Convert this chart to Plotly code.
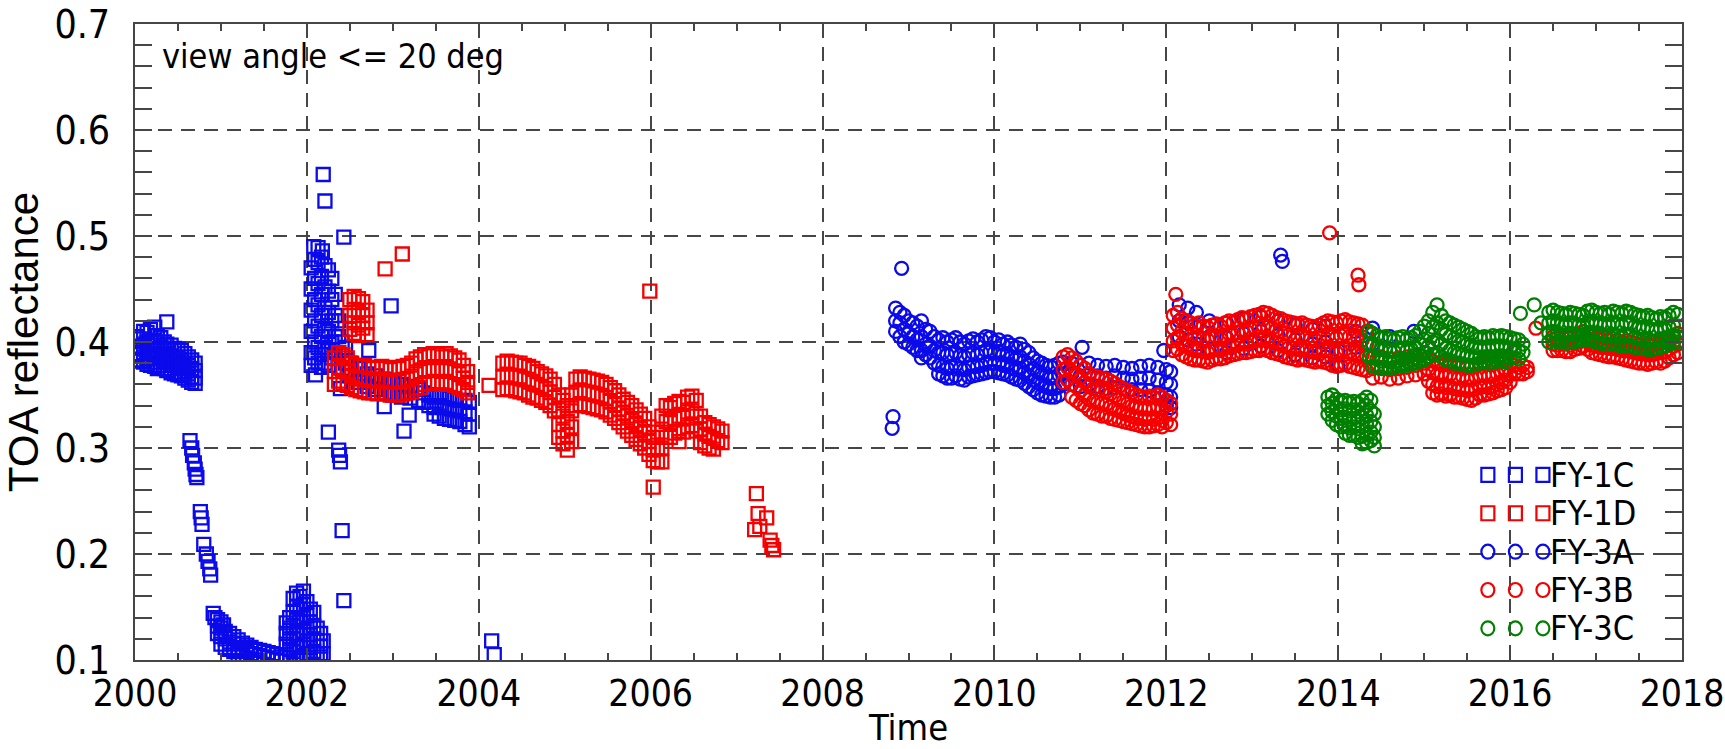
import plotly.graph_objects as go

# ---------------- data: (decimal year, reflectance values observed near that date) ----------------
FY1C = [
    (2000.02, 0.405, 0.395, 0.388, 0.383), (2000.06, 0.403, 0.396, 0.389, 0.382),
    (2000.10, 0.410, 0.398, 0.390, 0.381), (2000.14, 0.409, 0.400, 0.392, 0.384, 0.379),
    (2000.18, 0.412, 0.401, 0.393, 0.386, 0.378), (2000.23, 0.414, 0.400, 0.392, 0.384, 0.377),
    (2000.26, 0.406, 0.397, 0.389, 0.381, 0.375), (2000.30, 0.404, 0.395, 0.386, 0.378),
    (2000.34, 0.400, 0.392, 0.383, 0.375), (2000.37, 0.419, 0.398, 0.389, 0.381, 0.373),
    (2000.42, 0.397, 0.387, 0.379, 0.371), (2000.46, 0.394, 0.386, 0.378, 0.370),
    (2000.50, 0.393, 0.385, 0.376, 0.369), (2000.54, 0.392, 0.383, 0.375, 0.368),
    (2000.58, 0.389, 0.380, 0.372, 0.366), (2000.62, 0.386, 0.378, 0.370, 0.364),
    (2000.66, 0.383, 0.375, 0.367, 0.362), (2000.70, 0.380, 0.373, 0.366, 0.361),
    (2000.64, 0.307), (2000.66, 0.300), (2000.67, 0.293), (2000.69, 0.286),
    (2000.70, 0.280), (2000.71, 0.275), (2000.72, 0.272),
    (2000.76, 0.240), (2000.77, 0.234), (2000.78, 0.228),
    (2000.80, 0.209), (2000.83, 0.200), (2000.85, 0.193), (2000.87, 0.186), (2000.88, 0.180),
    (2000.91, 0.144), (2000.93, 0.140), (2000.96, 0.138, 0.132, 0.125),
    (2001.00, 0.136, 0.130, 0.122, 0.115), (2001.03, 0.133), (2001.05, 0.127, 0.120, 0.112),
    (2001.10, 0.125, 0.117, 0.110), (2001.15, 0.122, 0.115, 0.108), (2001.20, 0.119, 0.112, 0.105),
    (2001.25, 0.116, 0.110, 0.104), (2001.30, 0.114, 0.108, 0.102), (2001.35, 0.112, 0.106, 0.101),
    (2001.40, 0.110, 0.105, 0.100), (2001.45, 0.109, 0.104), (2001.50, 0.108, 0.103),
    (2001.55, 0.107, 0.102), (2001.60, 0.106, 0.101), (2001.65, 0.105, 0.100), (2001.70, 0.103, 0.099),
    (2001.76, 0.135, 0.125, 0.115, 0.105), (2001.80, 0.140, 0.130, 0.120, 0.110, 0.102),
    (2001.84, 0.158, 0.145, 0.132, 0.120, 0.108), (2001.88, 0.163, 0.150, 0.138, 0.125, 0.112, 0.102),
    (2001.92, 0.160, 0.148, 0.136, 0.124, 0.112, 0.102), (2001.96, 0.165, 0.152, 0.140, 0.127, 0.115, 0.104),
    (2002.00, 0.155, 0.142, 0.130, 0.118, 0.106), (2002.04, 0.148, 0.136, 0.124, 0.112, 0.102),
    (2002.08, 0.145, 0.132, 0.120, 0.108), (2002.12, 0.130, 0.118, 0.106),
    (2002.16, 0.125, 0.113, 0.103), (2002.19, 0.118, 0.106),
    (2002.05, 0.470, 0.450, 0.430, 0.410, 0.390, 0.378), (2002.09, 0.478, 0.460, 0.440, 0.420, 0.400, 0.385),
    (2002.13, 0.475, 0.455, 0.435, 0.415, 0.395, 0.380), (2002.17, 0.480, 0.462, 0.445, 0.425, 0.405, 0.388, 0.376),
    (2002.21, 0.472, 0.452, 0.432, 0.412, 0.395, 0.380), (2002.25, 0.468, 0.448, 0.428, 0.410, 0.392, 0.378),
    (2002.29, 0.460, 0.440, 0.420, 0.400, 0.385), (2002.33, 0.445, 0.425, 0.405, 0.390),
    (2002.37, 0.420, 0.405, 0.390), (2002.41, 0.400, 0.388, 0.375), (2002.45, 0.395, 0.380),
    (2002.19, 0.558), (2002.21, 0.533), (2002.43, 0.499), (2002.08, 0.490), (2002.13, 0.489),
    (2002.18, 0.486), (2002.10, 0.369), (2002.25, 0.315), (2002.37, 0.298), (2002.38, 0.293),
    (2002.39, 0.287), (2002.41, 0.222), (2002.43, 0.156), (2002.39, 0.356), (2002.72, 0.392),
    (2002.98, 0.434), (2002.90, 0.339), (2003.13, 0.316), (2003.19, 0.331),
    (2002.50, 0.380, 0.368), (2002.60, 0.375, 0.362), (2002.70, 0.370, 0.358), (2002.80, 0.368, 0.355),
    (2002.90, 0.365, 0.352), (2003.00, 0.362, 0.350), (2003.10, 0.360, 0.348), (2003.20, 0.358, 0.347),
    (2003.30, 0.355, 0.345), (2003.36, 0.352, 0.343), (2003.42, 0.350, 0.340),
    (2003.48, 0.348, 0.338, 0.332), (2003.54, 0.350, 0.340, 0.330), (2003.60, 0.348, 0.338, 0.328),
    (2003.66, 0.347, 0.337, 0.327), (2003.72, 0.346, 0.336, 0.326), (2003.78, 0.345, 0.335, 0.325),
    (2003.84, 0.345, 0.334, 0.322), (2003.89, 0.343, 0.332, 0.320),
    (2004.15, 0.118), (2004.18, 0.105),
]

FY1D = [
    (2002.50, 0.440, 0.425, 0.412), (2002.55, 0.443, 0.430, 0.418, 0.408),
    (2002.60, 0.441, 0.428, 0.416, 0.406), (2002.65, 0.438, 0.425, 0.413), (2002.70, 0.430, 0.418, 0.407),
    (2002.91, 0.469), (2003.11, 0.483),
    (2002.32, 0.385, 0.372, 0.360), (2002.37, 0.390, 0.376, 0.363), (2002.42, 0.388, 0.374, 0.361),
    (2002.47, 0.385, 0.372, 0.359), (2002.52, 0.380, 0.368, 0.357), (2002.57, 0.378, 0.366, 0.355),
    (2002.62, 0.377, 0.365, 0.354), (2002.67, 0.378, 0.366, 0.353), (2002.72, 0.376, 0.364, 0.352),
    (2002.77, 0.375, 0.363, 0.352), (2002.82, 0.376, 0.364, 0.351), (2002.87, 0.377, 0.365, 0.352),
    (2002.92, 0.375, 0.363, 0.351), (2002.97, 0.374, 0.362, 0.350), (2003.02, 0.376, 0.364, 0.351),
    (2003.07, 0.375, 0.363, 0.350), (2003.12, 0.377, 0.364, 0.351), (2003.17, 0.378, 0.365, 0.352),
    (2003.22, 0.380, 0.366, 0.353), (2003.27, 0.384, 0.370, 0.356), (2003.32, 0.386, 0.372, 0.357),
    (2003.37, 0.388, 0.374, 0.360), (2003.42, 0.387, 0.373, 0.361), (2003.47, 0.389, 0.375, 0.362),
    (2003.52, 0.388, 0.374, 0.361), (2003.57, 0.386, 0.373, 0.360), (2003.62, 0.389, 0.375, 0.362),
    (2003.67, 0.387, 0.373, 0.360), (2003.72, 0.385, 0.372, 0.359), (2003.77, 0.383, 0.370, 0.357),
    (2003.82, 0.378, 0.366, 0.355), (2003.87, 0.372, 0.362, 0.352),
    (2004.12, 0.359),
    (2004.28, 0.380, 0.367, 0.355), (2004.33, 0.382, 0.369, 0.356), (2004.38, 0.381, 0.368, 0.355),
    (2004.43, 0.380, 0.367, 0.354), (2004.48, 0.380, 0.367, 0.353), (2004.53, 0.378, 0.365, 0.352),
    (2004.58, 0.377, 0.364, 0.350), (2004.63, 0.375, 0.362, 0.348), (2004.68, 0.372, 0.360, 0.347),
    (2004.73, 0.370, 0.358, 0.345), (2004.78, 0.368, 0.356, 0.343), (2004.83, 0.365, 0.353, 0.340),
    (2004.88, 0.360, 0.348, 0.335), (2004.93, 0.350, 0.336, 0.322, 0.310),
    (2004.98, 0.345, 0.330, 0.316, 0.304), (2005.03, 0.340, 0.325, 0.312, 0.298),
    (2005.08, 0.350, 0.335, 0.320, 0.306),
    (2005.13, 0.365, 0.352, 0.340), (2005.18, 0.367, 0.354, 0.341), (2005.23, 0.366, 0.353, 0.340),
    (2005.28, 0.365, 0.352, 0.339), (2005.33, 0.364, 0.351, 0.338), (2005.38, 0.363, 0.350, 0.337),
    (2005.43, 0.362, 0.349, 0.336), (2005.48, 0.360, 0.347, 0.334), (2005.53, 0.357, 0.344, 0.331),
    (2005.58, 0.354, 0.341, 0.328), (2005.63, 0.350, 0.337, 0.324), (2005.68, 0.346, 0.333, 0.320),
    (2005.73, 0.343, 0.330, 0.316), (2005.78, 0.340, 0.326, 0.312), (2005.83, 0.336, 0.322, 0.308),
    (2005.88, 0.332, 0.318, 0.304), (2005.93, 0.328, 0.314, 0.300), (2005.98, 0.320, 0.306, 0.294),
    (2006.03, 0.310, 0.298, 0.288), (2006.08, 0.315, 0.300, 0.287), (2006.13, 0.330, 0.315, 0.300, 0.287),
    (2006.18, 0.340, 0.325, 0.310), (2006.23, 0.338, 0.324, 0.310), (2006.28, 0.342, 0.328, 0.314),
    (2006.33, 0.344, 0.330, 0.316, 0.306), (2006.38, 0.343, 0.329, 0.315), (2006.43, 0.348, 0.334, 0.320),
    (2006.48, 0.349, 0.335, 0.321), (2006.53, 0.345, 0.330, 0.316), (2006.58, 0.330, 0.318, 0.305),
    (2006.63, 0.324, 0.313, 0.302), (2006.68, 0.322, 0.311, 0.300), (2006.73, 0.320, 0.309, 0.299),
    (2006.78, 0.318, 0.307), (2006.83, 0.316, 0.305),
    (2005.99, 0.448), (2006.03, 0.263),
    (2007.23, 0.257), (2007.25, 0.238), (2007.35, 0.234), (2007.21, 0.223), (2007.27, 0.226),
    (2007.39, 0.213), (2007.43, 0.204), (2007.41, 0.208),
]

FY3A = [
    (2008.92, 0.4695), (2008.82, 0.3296), (2008.81, 0.3186),
    (2008.85, 0.432, 0.420, 0.410), (2008.90, 0.428, 0.418, 0.405), (2008.95, 0.425, 0.412, 0.400),
    (2009.00, 0.420, 0.408, 0.398), (2009.05, 0.418, 0.405, 0.395), (2009.10, 0.415, 0.402, 0.392),
    (2009.15, 0.420, 0.405, 0.392, 0.385), (2009.20, 0.412, 0.398, 0.388), (2009.25, 0.410, 0.396, 0.385),
    (2009.30, 0.405, 0.392, 0.380), (2009.35, 0.402, 0.390, 0.378, 0.370), (2009.40, 0.404, 0.390, 0.377, 0.368),
    (2009.45, 0.400, 0.388, 0.375, 0.366), (2009.50, 0.402, 0.389, 0.376, 0.366),
    (2009.55, 0.404, 0.390, 0.378, 0.368), (2009.60, 0.400, 0.387, 0.375, 0.365),
    (2009.65, 0.398, 0.386, 0.374, 0.364), (2009.70, 0.401, 0.388, 0.376, 0.367),
    (2009.75, 0.403, 0.390, 0.378, 0.368), (2009.80, 0.400, 0.388, 0.377, 0.369),
    (2009.85, 0.402, 0.390, 0.378, 0.370), (2009.90, 0.405, 0.392, 0.380, 0.371),
    (2009.95, 0.404, 0.391, 0.380, 0.372), (2010.00, 0.400, 0.390, 0.380, 0.372),
    (2010.05, 0.402, 0.391, 0.380, 0.371), (2010.10, 0.398, 0.388, 0.378, 0.370),
    (2010.15, 0.400, 0.389, 0.379, 0.369), (2010.20, 0.397, 0.386, 0.376, 0.367),
    (2010.25, 0.395, 0.384, 0.374, 0.365), (2010.30, 0.398, 0.386, 0.375, 0.364),
    (2010.35, 0.393, 0.382, 0.371, 0.361), (2010.40, 0.390, 0.379, 0.368, 0.358),
    (2010.45, 0.385, 0.375, 0.364, 0.355), (2010.50, 0.382, 0.372, 0.362, 0.352),
    (2010.55, 0.380, 0.370, 0.360, 0.350), (2010.60, 0.378, 0.368, 0.358, 0.349),
    (2010.65, 0.377, 0.366, 0.356, 0.348), (2010.70, 0.378, 0.367, 0.356, 0.348),
    (2010.75, 0.380, 0.369, 0.358, 0.350), (2010.80, 0.381, 0.370, 0.360),
    (2011.02, 0.395),
    (2010.90, 0.380, 0.370, 0.360), (2011.00, 0.378, 0.368, 0.358), (2011.10, 0.380, 0.370, 0.360),
    (2011.20, 0.378, 0.368, 0.358), (2011.30, 0.377, 0.366, 0.356), (2011.40, 0.378, 0.368, 0.357),
    (2011.50, 0.376, 0.366, 0.356), (2011.60, 0.375, 0.365, 0.355), (2011.70, 0.377, 0.366, 0.355),
    (2011.80, 0.378, 0.366, 0.354), (2011.90, 0.376, 0.364, 0.352),
    (2012.00, 0.374, 0.362, 0.350, 0.340), (2012.05, 0.372, 0.360, 0.348, 0.338), (2011.97, 0.392),
    (2012.15, 0.435, 0.420, 0.405), (2012.25, 0.432, 0.418, 0.402), (2012.35, 0.428, 0.414, 0.398),
    (2012.50, 0.420, 0.405, 0.392), (2012.70, 0.418, 0.404, 0.390), (2012.90, 0.422, 0.408, 0.394),
    (2013.10, 0.424, 0.410, 0.396), (2013.30, 0.420, 0.406, 0.392), (2013.50, 0.416, 0.402, 0.388),
    (2013.70, 0.412, 0.398, 0.385), (2013.85, 0.415, 0.400, 0.386), (2014.00, 0.392, 0.378),
    (2014.20, 0.410, 0.395), (2014.40, 0.413, 0.398), (2014.60, 0.405, 0.392), (2014.88, 0.410),
    (2013.33, 0.482), (2013.35, 0.476),
]

FY3B = [
    (2010.80, 0.386, 0.374, 0.362), (2010.85, 0.388, 0.376, 0.364),
    (2010.90, 0.385, 0.372, 0.360, 0.348), (2010.95, 0.382, 0.370, 0.358, 0.345),
    (2011.00, 0.378, 0.366, 0.354, 0.342), (2011.05, 0.375, 0.362, 0.350, 0.340),
    (2011.10, 0.370, 0.358, 0.346, 0.336), (2011.15, 0.368, 0.356, 0.344, 0.333),
    (2011.20, 0.367, 0.355, 0.343, 0.332), (2011.25, 0.366, 0.354, 0.342, 0.330),
    (2011.30, 0.365, 0.353, 0.341, 0.330), (2011.35, 0.363, 0.351, 0.339, 0.328),
    (2011.40, 0.361, 0.349, 0.337, 0.327), (2011.45, 0.358, 0.346, 0.335, 0.326),
    (2011.50, 0.356, 0.344, 0.333, 0.325), (2011.55, 0.354, 0.342, 0.331, 0.324),
    (2011.60, 0.352, 0.340, 0.330, 0.323), (2011.65, 0.350, 0.339, 0.328, 0.322),
    (2011.70, 0.349, 0.338, 0.328, 0.321), (2011.75, 0.348, 0.337, 0.327, 0.320),
    (2011.80, 0.349, 0.338, 0.328, 0.320), (2011.85, 0.348, 0.337, 0.327, 0.321),
    (2011.90, 0.350, 0.339, 0.328, 0.322), (2011.95, 0.348, 0.337, 0.326, 0.320),
    (2012.00, 0.345, 0.334, 0.324), (2012.05, 0.342, 0.332, 0.322),
    (2012.11, 0.445),
    (2012.08, 0.425, 0.413, 0.401, 0.392), (2012.13, 0.428, 0.416, 0.404, 0.393),
    (2012.18, 0.422, 0.410, 0.398, 0.388), (2012.23, 0.420, 0.408, 0.396, 0.386),
    (2012.28, 0.418, 0.406, 0.394, 0.384), (2012.33, 0.416, 0.404, 0.392, 0.383),
    (2012.38, 0.418, 0.405, 0.393, 0.383), (2012.43, 0.415, 0.403, 0.391, 0.382),
    (2012.48, 0.414, 0.402, 0.390, 0.381), (2012.53, 0.416, 0.404, 0.392, 0.383),
    (2012.58, 0.417, 0.405, 0.393, 0.384), (2012.63, 0.415, 0.403, 0.392, 0.384),
    (2012.68, 0.418, 0.406, 0.394, 0.385), (2012.73, 0.420, 0.408, 0.396, 0.387),
    (2012.78, 0.419, 0.407, 0.396, 0.388), (2012.83, 0.421, 0.409, 0.397, 0.389),
    (2012.88, 0.423, 0.411, 0.399, 0.390), (2012.93, 0.422, 0.410, 0.398, 0.390),
    (2012.98, 0.424, 0.412, 0.400, 0.391), (2013.03, 0.425, 0.413, 0.401, 0.392),
    (2013.08, 0.426, 0.414, 0.402, 0.392), (2013.13, 0.428, 0.415, 0.403, 0.393),
    (2013.18, 0.427, 0.414, 0.402, 0.392), (2013.23, 0.425, 0.413, 0.401, 0.390),
    (2013.28, 0.423, 0.411, 0.399, 0.389), (2013.33, 0.422, 0.410, 0.398, 0.388),
    (2013.38, 0.420, 0.408, 0.396, 0.386), (2013.43, 0.419, 0.407, 0.395, 0.385),
    (2013.48, 0.418, 0.406, 0.394, 0.384), (2013.53, 0.417, 0.405, 0.393, 0.383),
    (2013.58, 0.418, 0.406, 0.394, 0.384), (2013.63, 0.416, 0.404, 0.392, 0.383),
    (2013.68, 0.415, 0.403, 0.391, 0.382), (2013.73, 0.414, 0.402, 0.390, 0.381),
    (2013.78, 0.416, 0.404, 0.392, 0.382), (2013.83, 0.418, 0.405, 0.392, 0.381),
    (2013.88, 0.420, 0.406, 0.392, 0.380), (2013.90, 0.503),
    (2013.93, 0.419, 0.405, 0.391, 0.378), (2013.98, 0.418, 0.404, 0.390, 0.377),
    (2014.03, 0.420, 0.406, 0.392, 0.378), (2014.08, 0.421, 0.407, 0.393, 0.379),
    (2014.13, 0.419, 0.405, 0.391, 0.377), (2014.18, 0.418, 0.404, 0.390, 0.376),
    (2014.23, 0.417, 0.403, 0.389, 0.375), (2014.23, 0.463), (2014.24, 0.454),
    (2014.28, 0.416, 0.402, 0.388, 0.374), (2014.33, 0.410, 0.398, 0.386, 0.373),
    (2014.40, 0.385, 0.375, 0.366), (2014.50, 0.386, 0.376, 0.367), (2014.60, 0.384, 0.374, 0.365),
    (2014.70, 0.385, 0.375, 0.366), (2014.80, 0.386, 0.376, 0.368), (2014.90, 0.388, 0.378, 0.369),
    (2015.00, 0.390, 0.380, 0.370), (2015.05, 0.385, 0.374, 0.363),
    (2015.10, 0.382, 0.371, 0.360, 0.352), (2015.15, 0.380, 0.369, 0.358, 0.350),
    (2015.20, 0.381, 0.370, 0.359, 0.351), (2015.25, 0.379, 0.368, 0.357, 0.349),
    (2015.30, 0.380, 0.369, 0.358, 0.350), (2015.35, 0.378, 0.367, 0.356, 0.348),
    (2015.40, 0.377, 0.366, 0.355, 0.348), (2015.45, 0.378, 0.367, 0.356, 0.347),
    (2015.50, 0.376, 0.365, 0.354, 0.346), (2015.55, 0.377, 0.366, 0.355, 0.345),
    (2015.60, 0.378, 0.367, 0.356, 0.347), (2015.65, 0.379, 0.368, 0.357, 0.350),
    (2015.70, 0.380, 0.369, 0.358, 0.350), (2015.75, 0.379, 0.368, 0.357, 0.351),
    (2015.80, 0.380, 0.369, 0.358, 0.352), (2015.85, 0.381, 0.370, 0.360, 0.354),
    (2015.90, 0.382, 0.372, 0.362, 0.355), (2015.95, 0.384, 0.374, 0.364, 0.357),
    (2016.00, 0.380, 0.370, 0.362), (2016.05, 0.378, 0.370), (2016.10, 0.376, 0.370),
    (2016.15, 0.378, 0.370), (2016.20, 0.376, 0.372), (2016.30, 0.413),
    (2016.50, 0.405, 0.398, 0.392), (2016.55, 0.404, 0.397, 0.392), (2016.60, 0.406, 0.398, 0.392),
    (2016.65, 0.405, 0.398, 0.391), (2016.70, 0.404, 0.397, 0.391), (2016.75, 0.406, 0.399, 0.393),
    (2016.80, 0.407, 0.400, 0.394), (2016.85, 0.410, 0.402, 0.396), (2016.90, 0.408, 0.400, 0.393),
    (2016.95, 0.405, 0.397, 0.390), (2017.00, 0.404, 0.396, 0.389), (2017.05, 0.403, 0.395, 0.388),
    (2017.10, 0.404, 0.395, 0.387), (2017.15, 0.402, 0.394, 0.386), (2017.20, 0.403, 0.394, 0.386),
    (2017.25, 0.401, 0.393, 0.385), (2017.30, 0.400, 0.392, 0.384), (2017.35, 0.401, 0.392, 0.383),
    (2017.40, 0.400, 0.391, 0.382), (2017.45, 0.399, 0.390, 0.381), (2017.50, 0.398, 0.389, 0.380),
    (2017.55, 0.399, 0.389, 0.380), (2017.60, 0.398, 0.388, 0.379), (2017.65, 0.397, 0.388, 0.380),
    (2017.70, 0.398, 0.389, 0.381), (2017.75, 0.399, 0.390, 0.380), (2017.80, 0.400, 0.391, 0.382),
    (2017.85, 0.402, 0.393, 0.385), (2017.90, 0.405, 0.396, 0.388), (2017.95, 0.408, 0.398, 0.390),
]

FY3C = [
    (2013.88, 0.348, 0.340, 0.332), (2013.93, 0.350, 0.342, 0.334, 0.326),
    (2013.98, 0.346, 0.338, 0.330, 0.322), (2014.03, 0.344, 0.336, 0.328, 0.320),
    (2014.08, 0.345, 0.337, 0.329, 0.321, 0.314), (2014.13, 0.343, 0.335, 0.327, 0.319, 0.312),
    (2014.18, 0.344, 0.336, 0.328, 0.320, 0.312), (2014.23, 0.342, 0.334, 0.326, 0.318, 0.310),
    (2014.28, 0.345, 0.337, 0.329, 0.320, 0.311, 0.304), (2014.33, 0.348, 0.340, 0.331, 0.322, 0.313, 0.305),
    (2014.38, 0.345, 0.335, 0.325, 0.315, 0.307), (2014.42, 0.332, 0.320, 0.310, 0.302),
    (2014.36, 0.410, 0.398, 0.386), (2014.40, 0.408, 0.397, 0.386, 0.377),
    (2014.45, 0.406, 0.395, 0.384, 0.376), (2014.50, 0.404, 0.393, 0.382, 0.375),
    (2014.55, 0.405, 0.394, 0.383, 0.376), (2014.60, 0.403, 0.392, 0.381, 0.375),
    (2014.65, 0.402, 0.391, 0.381, 0.376), (2014.70, 0.404, 0.393, 0.382, 0.377),
    (2014.75, 0.405, 0.394, 0.384, 0.378), (2014.80, 0.403, 0.392, 0.382, 0.378),
    (2014.85, 0.404, 0.393, 0.383, 0.379), (2014.90, 0.406, 0.395, 0.385, 0.380),
    (2014.95, 0.410, 0.398, 0.388, 0.382), (2015.00, 0.415, 0.402, 0.390, 0.383),
    (2015.05, 0.420, 0.408, 0.396, 0.386), (2015.10, 0.428, 0.414, 0.400, 0.388),
    (2015.15, 0.435, 0.418, 0.402, 0.390), (2015.20, 0.425, 0.412, 0.398, 0.386),
    (2015.25, 0.420, 0.407, 0.394, 0.383), (2015.30, 0.418, 0.405, 0.392, 0.382),
    (2015.35, 0.416, 0.403, 0.390, 0.380), (2015.40, 0.414, 0.401, 0.389, 0.380),
    (2015.45, 0.412, 0.400, 0.388, 0.379), (2015.50, 0.410, 0.398, 0.387, 0.378),
    (2015.55, 0.408, 0.397, 0.386, 0.378), (2015.60, 0.405, 0.395, 0.385, 0.379),
    (2015.65, 0.404, 0.394, 0.385, 0.380), (2015.70, 0.405, 0.395, 0.386, 0.381),
    (2015.75, 0.404, 0.394, 0.385, 0.380), (2015.80, 0.406, 0.396, 0.386, 0.381),
    (2015.85, 0.405, 0.395, 0.386, 0.382), (2015.90, 0.406, 0.396, 0.387, 0.382),
    (2015.95, 0.405, 0.395, 0.386, 0.381), (2016.00, 0.404, 0.394, 0.385),
    (2016.05, 0.403, 0.393, 0.385), (2016.10, 0.402, 0.392, 0.384), (2016.15, 0.398, 0.390),
    (2016.12, 0.427), (2016.28, 0.435), (2016.36, 0.418),
    (2016.45, 0.428, 0.418, 0.408, 0.400), (2016.50, 0.430, 0.420, 0.410, 0.402),
    (2016.55, 0.428, 0.418, 0.408, 0.400), (2016.60, 0.427, 0.417, 0.407, 0.400),
    (2016.65, 0.426, 0.416, 0.406, 0.399), (2016.70, 0.428, 0.418, 0.408, 0.400),
    (2016.75, 0.427, 0.417, 0.407, 0.400), (2016.80, 0.426, 0.416, 0.406, 0.401),
    (2016.85, 0.425, 0.415, 0.406, 0.402), (2016.90, 0.429, 0.418, 0.408, 0.402),
    (2016.95, 0.430, 0.419, 0.409, 0.401), (2017.00, 0.428, 0.418, 0.408, 0.400),
    (2017.05, 0.427, 0.417, 0.407, 0.399), (2017.10, 0.428, 0.417, 0.406, 0.398),
    (2017.15, 0.426, 0.416, 0.406, 0.398), (2017.20, 0.429, 0.418, 0.407, 0.398),
    (2017.25, 0.428, 0.417, 0.406, 0.397), (2017.30, 0.427, 0.416, 0.405, 0.396),
    (2017.35, 0.429, 0.418, 0.407, 0.397), (2017.40, 0.428, 0.417, 0.406, 0.396),
    (2017.45, 0.426, 0.415, 0.404, 0.395), (2017.50, 0.425, 0.414, 0.403, 0.394),
    (2017.55, 0.424, 0.413, 0.402, 0.394), (2017.60, 0.425, 0.414, 0.403, 0.393),
    (2017.65, 0.423, 0.412, 0.401, 0.393), (2017.70, 0.422, 0.411, 0.401, 0.394),
    (2017.75, 0.424, 0.413, 0.403, 0.395), (2017.80, 0.423, 0.412, 0.402, 0.396),
    (2017.85, 0.425, 0.414, 0.404, 0.398), (2017.90, 0.428, 0.416, 0.406, 0.399),
    (2017.95, 0.426, 0.415, 0.405, 0.400),
]

SERIES_NAMES = ["FY-1C", "FY-1D", "FY-3A", "FY-3B", "FY-3C"]
SERIES_DATA = [FY1C, FY1D, FY3A, FY3B, FY3C]
SERIES_SYMBOLS = ["square-open", "square-open", "circle-open", "circle-open", "circle-open"]
SERIES_COLORS = ["rgb(10,10,235)", "rgb(245,0,0)", "rgb(10,10,235)", "rgb(245,0,0)", "rgb(0,128,0)"]

X_TICKS = [2000, 2002, 2004, 2006, 2008, 2010, 2012, 2014, 2016, 2018]
Y_TICKS = [0.1, 0.2, 0.3, 0.4, 0.5, 0.6, 0.7]
NOTE = "view angle <= 20 deg"


def flatten(rows):
    xs, ys = [], []
    for r in rows:
        for v in r[1:]:
            xs.append(r[0])
            ys.append(v)
    return xs, ys


NARROW = "Liberation Sans Narrow, Arial Narrow, DejaVu Sans Condensed, sans-serif"
REG = "Liberation Sans, Arial, sans-serif"

fig = go.Figure()
for name, rows, sym, col in zip(SERIES_NAMES, SERIES_DATA, SERIES_SYMBOLS, SERIES_COLORS):
    xs, ys = flatten(rows)
    fig.add_trace(go.Scatter(
        x=xs, y=ys, mode="markers", name=name, showlegend=False,
        marker=dict(symbol=sym, size=13, color=col, line=dict(width=2.3, color=col)),
    ))

grid_col = "rgb(70,70,70)"
axis_col = "rgb(70,70,70)"

fig.update_xaxes(
    range=[2000, 2018], tickvals=X_TICKS, ticktext=[str(t) for t in X_TICKS],
    ticks="inside", ticklen=12, tickwidth=1.5, tickcolor=axis_col,
    minor=dict(dtick=0.5, tick0=2000, ticks="inside", ticklen=7, tickwidth=1.5,
               tickcolor=axis_col, showgrid=False),
    showline=True, linecolor=axis_col, linewidth=2, mirror="allticks",
    showgrid=True, gridcolor=grid_col, gridwidth=1.5, griddash="14px,9px",
    zeroline=False, tickfont=dict(family=NARROW, size=37, color="black"),
    ticklabelstandoff=0, ticklabeloverflow="allow", automargin=False,
    title=dict(text="Time", font=dict(family=NARROW, size=36, color="black"), standoff=0),
)
fig.update_yaxes(
    range=[0.1, 0.7], tickvals=Y_TICKS, ticktext=["%.1f" % t for t in Y_TICKS],
    ticks="inside", ticklen=17, tickwidth=1.5, tickcolor=axis_col,
    minor=dict(dtick=0.02, tick0=0.1, ticks="inside", ticklen=17, tickwidth=1.5,
               tickcolor=axis_col, showgrid=False),
    showline=True, linecolor=axis_col, linewidth=2, mirror="allticks",
    showgrid=True, gridcolor=grid_col, gridwidth=1.5, griddash="14px,9px",
    zeroline=False, tickfont=dict(family=NARROW, size=39, color="black"),
    ticklabelstandoff=15, ticklabeloverflow="allow", automargin=False,
    title=dict(text="TOA reflectance", font=dict(family=REG, size=42, color="black"), standoff=3),
)

# manual legend (three markers + label per series), bottom-right inside the axes
leg_y = [0.291, 0.2307, 0.1703, 0.1101, 0.0498]
leg_x = [0.8745, 0.8923, 0.9101]
shapes = []
annotations = []
for name, sym, col, yy in zip(SERIES_NAMES, SERIES_SYMBOLS, SERIES_COLORS, leg_y):
    for xx in leg_x:
        shapes.append(dict(
            type="rect" if sym.startswith("square") else "circle",
            xref="paper", yref="paper", xsizemode="pixel", ysizemode="pixel",
            xanchor=xx, yanchor=yy, x0=-6.5, x1=6.5, y0=-7, y1=7,
            line=dict(color=col, width=2.2), fillcolor="rgba(0,0,0,0)",
        ))
    annotations.append(dict(
        x=0.9135, y=yy, xref="paper", yref="paper", xanchor="left", yanchor="middle",
        text=name, showarrow=False, font=dict(family=NARROW, size=34, color="black"),
    ))
annotations.append(dict(
    x=0.0164, y=0.95, xref="paper", yref="paper", xanchor="left", yanchor="middle",
    text=NOTE, showarrow=False, font=dict(family=NARROW, size=34, color="black"),
))

fig.update_layout(
    width=1725, height=749,
    margin=dict(l=135, r=43, t=24, b=89),
    paper_bgcolor="white", plot_bgcolor="white",
    shapes=shapes, annotations=annotations,
    showlegend=False,
)

# remove the browser's default page margin so the figure fills the window exactly
fig.write_html("out.html", config={"displayModeBar": False},
               post_script="document.body.style.margin='0';")
